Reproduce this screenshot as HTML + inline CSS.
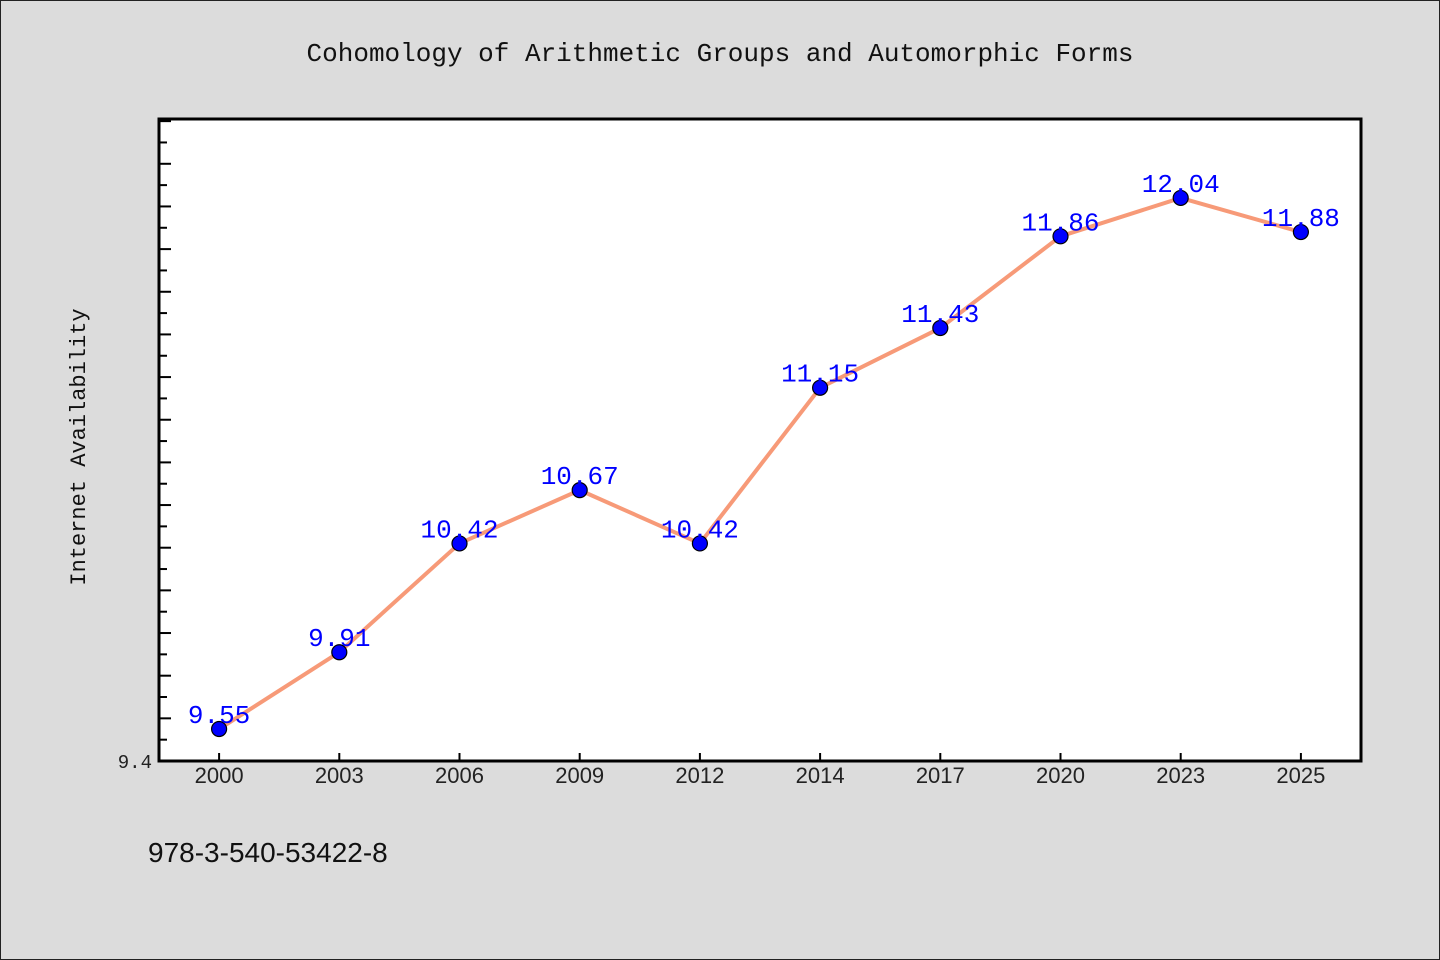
<!DOCTYPE html>
<html><head><meta charset="utf-8"><style>
body{margin:0;background:#dcdcdc;}
svg{display:block;}
</style></head><body>
<svg width="1440" height="960" xmlns="http://www.w3.org/2000/svg">
<rect x="0.5" y="0.5" width="1439" height="959" fill="#dcdcdc" stroke="#222"/>
<text x="720" y="61" text-anchor="middle" font-family="Liberation Mono, monospace" font-size="26" fill="#111">Cohomology of Arithmetic Groups and Automorphic Forms</text>
<rect x="159" y="119" width="1202" height="642" fill="#fff"/>
<g id="ticks"></g>
<text transform="translate(85,447) rotate(-90)" text-anchor="middle" font-family="Liberation Mono, monospace" font-size="22" fill="#111">Internet Availability</text>
<text x="148" y="862" font-family="Liberation Sans, sans-serif" font-size="28" fill="#111">978-3-540-53422-8</text>
<g id="marks"></g>
<rect x="159" y="119" width="1202" height="642" fill="none" stroke="#000" stroke-width="3"/>
</svg>
<script>
const categories=["2000","2003","2006","2009","2012","2014","2017","2020","2023","2025"];
const values=[9.55,9.91,10.42,10.67,10.42,11.15,11.43,11.86,12.04,11.88];
const yTickLabels=["9.4"];
const yMin=9.4,yMax=12.41;
const L=159,R=1361,T=119,B=761;
const NS="http://www.w3.org/2000/svg";
function y(v){return B-(v-yMin)/(yMax-yMin)*(B-T);}
function x(i){const bw=(R-L)/categories.length;return L+bw*(i+0.5);}
function mk(tag,attrs,parent){const e=document.createElementNS(NS,tag);for(const k in attrs)e.setAttribute(k,attrs[k]);parent.appendChild(e);return e;}
const tg=document.getElementById('ticks'),mg=document.getElementById('marks');
for(let k=0;k<=30;k++){
 const v=yMin+k*0.1;if(v>yMax)break;
 const len=k%2===0?12:8;
 const t=mk('line',{x1:L,x2:L+len,y1:y(v),y2:y(v),stroke:'#000','stroke-width':2},tg);
 
 
}
yTickLabels.forEach(s=>{
 const t=mk('text',{x:152,y:y(parseFloat(s))+7,'text-anchor':'end','font-family':'Liberation Mono, monospace','font-size':19,fill:'#222'},tg);
 t.textContent=s;
 
 
});
categories.forEach((c,i)=>{
 const t=mk('line',{x1:x(i),x2:x(i),y1:B,y2:B-8,stroke:'#000','stroke-width':2},tg);
 
 
 const l=mk('text',{x:x(i),y:B+22,'text-anchor':'middle','font-family':'Liberation Sans, sans-serif','font-size':22,fill:'#222'},tg);
 l.textContent=c;
 
 
});
const line=mk('polyline',{points:values.map((v,i)=>x(i)+','+y(v)).join(' '),fill:'none',stroke:'#f79a78','stroke-width':4,'stroke-linejoin':'round'},mg);


values.forEach((v,i)=>{
 const c=mk('circle',{cx:x(i),cy:y(v),r:7.5,fill:'#0000ff',stroke:'#000','stroke-width':1.2},mg);
 
 
 const t=mk('text',{x:x(i),y:y(v)-6,'text-anchor':'middle','font-family':'Liberation Mono, monospace','font-size':26,fill:'#0000ff'},mg);
 t.textContent=v.toFixed(2);
 
 
});
</script>
</body></html>
